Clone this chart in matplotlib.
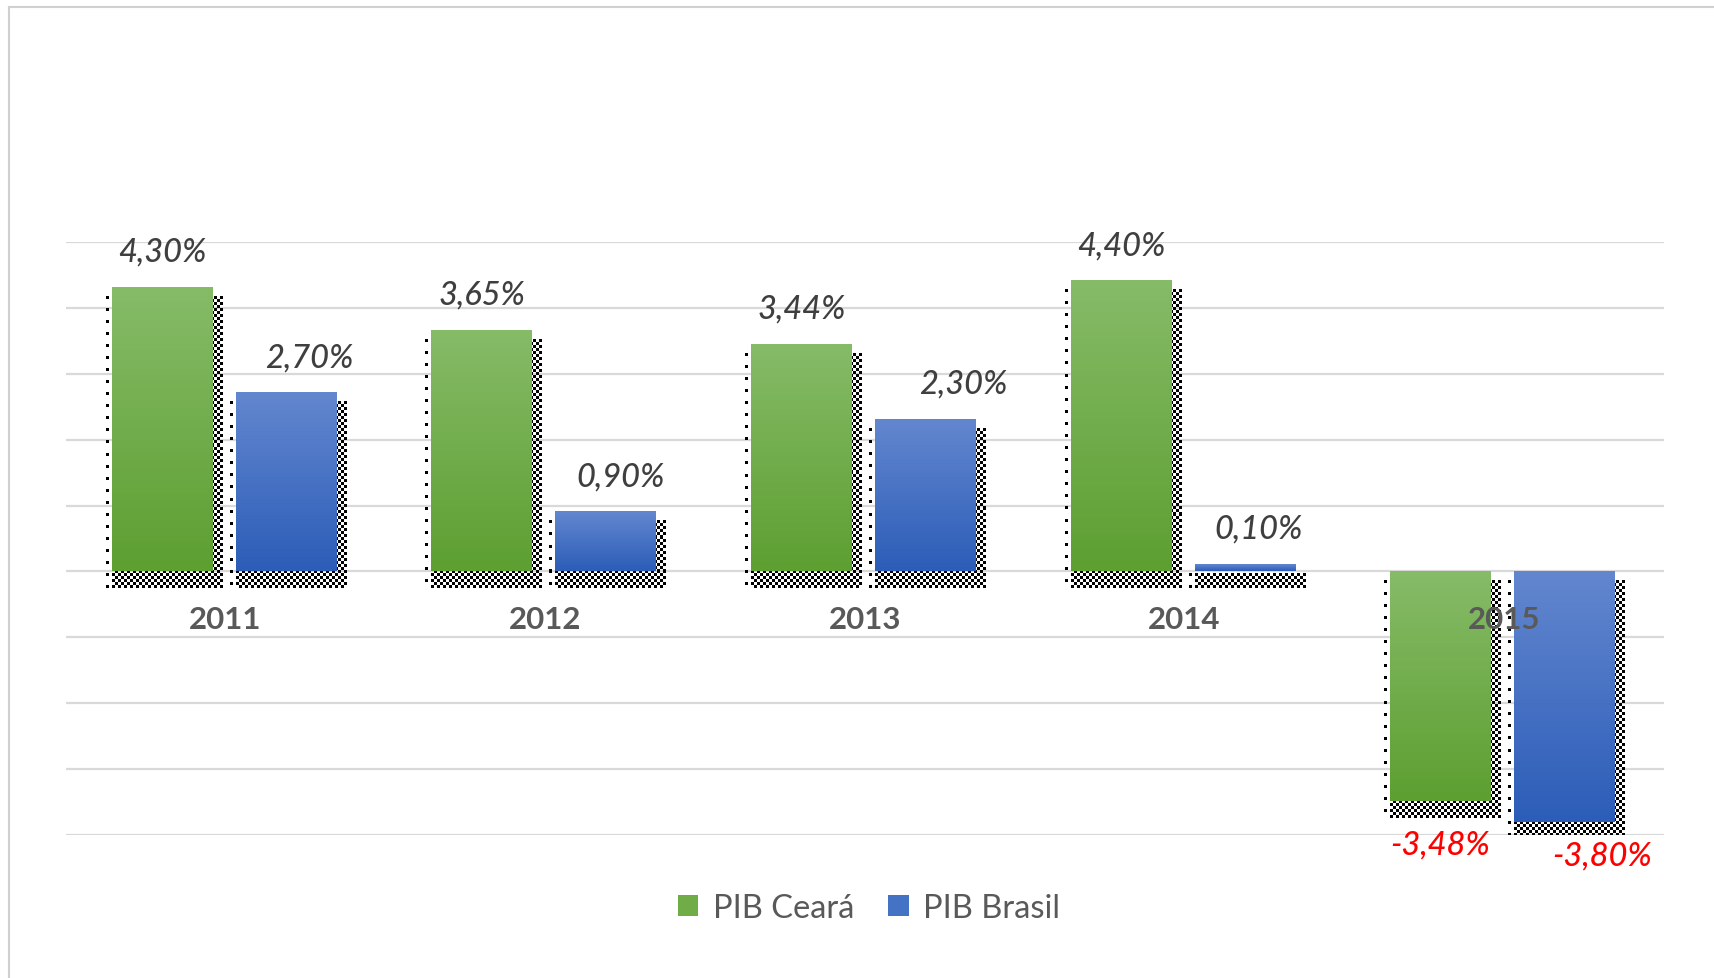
import numpy as np
import matplotlib
matplotlib.use('Agg')
import matplotlib.pyplot as plt
from matplotlib.patches import Patch
from matplotlib.lines import Line2D
from matplotlib.colors import to_rgb

# dados do grafico
anos = ['2011', '2012', '2013', '2014', '2015']
pib_ceara = [4.30, 3.65, 3.44, 4.40, -3.48]
pib_brasil = [2.70, 0.90, 2.30, 0.10, -3.80]
series_nomes = ['PIB Ceará', 'PIB Brasil']

# deslocamento dos rotulos (px), ajustados a mao no original
desloc_x_brasil = [23, 15, 38, 14, 38]
desloc_y_neg = [-43, -33]

plt.rcParams['font.family'] = ['Lato', 'DejaVu Sans']

W, H = 1714, 979
fig = plt.figure(figsize=(W / 100, H / 100), dpi=100)
ax = fig.add_axes([65.6 / W, 1 - 836.3 / H, (1663.7 - 65.6) / W, (836.3 - 242.7) / H])
ax.axis('off')

for g in range(-4, 6):
    ax.axhline(g, color='#d9d9d9', lw=1.6, zorder=0)

x = np.arange(len(anos))
larg = 0.315
cores = [('#86bb68', '#5d9f31'), ('#6387cf', '#2c5db8')]
px_x = (1663.7 - 65.6) / 5.0
px_y = (836.3 - 242.7) / 9.0

bars_c = ax.bar(x - 0.198, pib_ceara, larg, color='none', zorder=3)
bars_b = ax.bar(x + 0.19, pib_brasil, larg, color='none', zorder=3)


def xadrez(nx, ny, n_esq):
    i, j = np.meshgrid(np.arange(nx), np.arange(ny))
    a = ((i + j) % 2 == 0).astype(float)
    # coluna da esquerda: pontos esparsos
    a[:, :n_esq] = 0
    a[::4, 0] = 1
    img = np.zeros((ny, nx, 4))
    img[..., 3] = a
    return img


def gradiente(bar, c_top, c_bot):
    x0, w = bar.get_x(), bar.get_width()
    y0, h = bar.get_y(), bar.get_height()
    y_lo, y_hi = min(y0, y0 + h), max(y0, y0 + h)
    t = np.linspace(0, 1, 100)[:, None, None]
    img = (1 - t) * np.array(to_rgb(c_top)) + t * np.array(to_rgb(c_bot))
    ax.imshow(img, extent=(x0, x0 + w, y_lo, y_hi), aspect='auto',
              origin='upper', zorder=3, interpolation='bilinear')
    # "sombra" pontilhada (artefato do original)
    sx0, sx1 = x0 - 6 / px_x, x0 + w + 10 / px_x
    sy0, sy1 = y_lo - 17 / px_y, y_hi - 9 / px_y
    nx = max(3, int(round((sx1 - sx0) * px_x / 3)))
    ny = max(3, int(round((sy1 - sy0) * px_y / 3)))
    ax.imshow(xadrez(nx, ny, 2), extent=(sx0, sx1, sy0, sy1), aspect='auto',
              interpolation='nearest', zorder=2)


for b in bars_c:
    gradiente(b, *cores[0])
for b in bars_b:
    gradiente(b, *cores[1])

ax.set_aspect('auto')
ax.set_xlim(-0.5, 4.5)
ax.set_ylim(-4, 5)


def fmt(v):
    return f'{v:.2f}%'.replace('.', ',')


estilo = dict(ha='center', va='center', fontsize=23.5, style='italic',
              fontweight='medium', zorder=5, annotation_clip=False)

for k, (serie, bars, dxs) in enumerate([(pib_ceara, bars_c, [0] * 5),
                                        (pib_brasil, bars_b, desloc_x_brasil)]):
    for i, b in enumerate(bars):
        v = serie[i]
        cx = b.get_x() + b.get_width() / 2
        if v >= 0:
            ax.annotate(fmt(v), (cx, v), xytext=(dxs[i] * 0.72, 36 * 0.72),
                        textcoords='offset points', color='#3f3f3f', **estilo)
        else:
            ax.annotate(fmt(v), (cx, v), xytext=(dxs[i] * 0.72, desloc_y_neg[k] * 0.72),
                        textcoords='offset points', color='#ff0000', **estilo)

# rotulos das categorias
for i, a in enumerate(anos):
    ax.annotate(a, (x[i], 0), xytext=(0, -48 * 0.72), textcoords='offset points',
                ha='center', va='center', fontsize=22.5, fontweight='bold', color='#595959', zorder=6)

# legenda
handles = [Patch(facecolor='#70ad47'), Patch(facecolor='#4472c4')]
fig.legend(handles, series_nomes, loc='center', bbox_to_anchor=(0.507, 0.0715), ncol=2,
           frameon=False, fontsize=23.5, labelcolor='#595959', handlelength=0.62, handleheight=0.62,
           handletextpad=0.45, columnspacing=1.05)

# borda do grafico
fig.add_artist(Line2D([9 / W, 1], [1 - 8 / H, 1 - 8 / H], color='#d0d0d0', lw=1.5))
fig.add_artist(Line2D([9 / W, 9 / W], [0, 1 - 8 / H], color='#d0d0d0', lw=1.5))

fig.savefig('out.png', dpi=100)
